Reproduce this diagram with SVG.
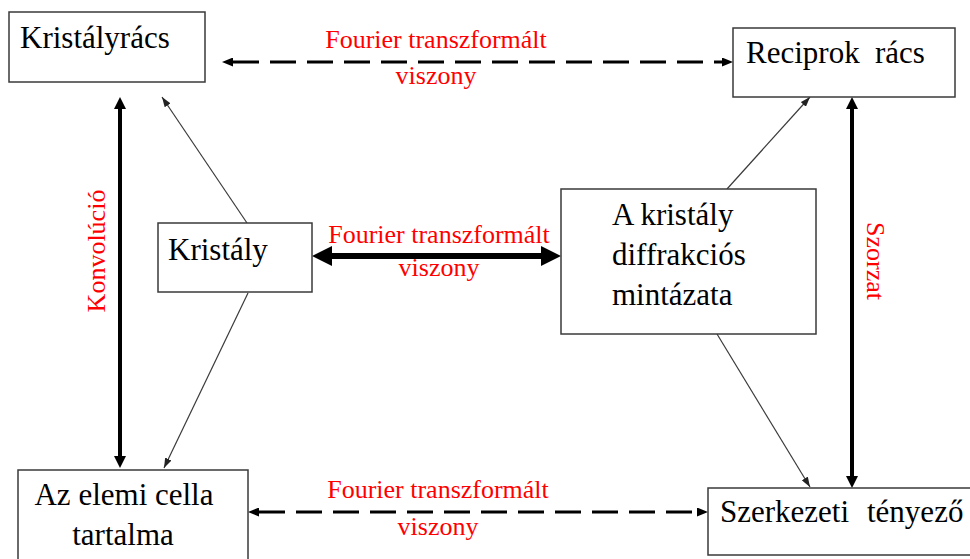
<svg xmlns="http://www.w3.org/2000/svg" width="970" height="559" viewBox="0 0 970 559">
  <style>
    .box { fill: #ffffff; stroke: #3a3a3a; stroke-width: 1.5; }
    .lbl { font-family: "Liberation Serif", "Times New Roman", serif; font-size: 31px; fill: #000000; }
    .red { font-family: "Liberation Serif", "Times New Roman", serif; font-size: 26px; fill: #ff0000; }
    .dash { stroke: #000000; stroke-width: 3.2; stroke-dasharray: 26 11; fill: none; }
    .thick { stroke: #000000; stroke-width: 6; fill: none; }
    .vert { stroke: #000000; stroke-width: 4; fill: none; }
    .thin { stroke: #3a3a3a; stroke-width: 1.2; fill: none; }
  </style>
  <defs>
    <marker id="head-lg" viewBox="0 -10 21 20" refX="0" refY="0" markerWidth="21" markerHeight="20" markerUnits="userSpaceOnUse" orient="auto-start-reverse">
      <path d="M0,-10 L20,0 L0,10 Z" fill="#000000"/>
    </marker>
    <marker id="head-md" viewBox="0 -6 13 12" refX="0" refY="0" markerWidth="13" markerHeight="12" markerUnits="userSpaceOnUse" orient="auto-start-reverse">
      <path d="M0,-6 L12,0 L0,6 Z" fill="#000000"/>
    </marker>
    <marker id="head-dash" viewBox="0 -4.5 12 9" refX="0" refY="0" markerWidth="12" markerHeight="9" markerUnits="userSpaceOnUse" orient="auto-start-reverse">
      <path d="M0,-4.5 L11,0 L0,4.5 Z" fill="#000000"/>
    </marker>
    <marker id="head-sm" viewBox="0 -3.5 10 7" refX="10" refY="0" markerWidth="10" markerHeight="7" markerUnits="userSpaceOnUse" orient="auto">
      <path d="M0,-3.5 L10,0 L0,3.5 Z" fill="#222222"/>
    </marker>
  </defs>

  <rect width="970" height="559" fill="#ffffff"/>

  <!-- connectors -->
  <g id="connectors">
    <!-- Fourier pair: lattice / reciprocal lattice -->
    <line class="dash" x1="233" y1="62" x2="722" y2="62" marker-start="url(#head-dash)" marker-end="url(#head-dash)"/>
    <!-- Fourier pair: crystal / diffraction pattern -->
    <line class="thick" x1="332" y1="256" x2="541" y2="256" marker-start="url(#head-lg)" marker-end="url(#head-lg)"/>
    <!-- Fourier pair: cell content / structure factor -->
    <line class="dash" x1="259" y1="512" x2="697" y2="512" marker-start="url(#head-dash)" marker-end="url(#head-dash)"/>
    <!-- convolution -->
    <line class="vert" x1="120" y1="109" x2="120" y2="456" marker-start="url(#head-md)" marker-end="url(#head-md)"/>
    <!-- product -->
    <line class="vert" x1="852" y1="109" x2="852" y2="476" marker-start="url(#head-md)" marker-end="url(#head-md)"/>
    <!-- decomposition arrows -->
    <line class="thin" x1="247" y1="223" x2="162" y2="97" marker-end="url(#head-sm)"/>
    <line class="thin" x1="248" y1="293" x2="164" y2="468" marker-end="url(#head-sm)"/>
    <line class="thin" x1="727" y1="189" x2="810" y2="97" marker-end="url(#head-sm)"/>
    <line class="thin" x1="717" y1="334" x2="810" y2="487" marker-end="url(#head-sm)"/>

    <!-- connector labels -->
    <text class="red" x="436" y="48" text-anchor="middle">Fourier transzformált</text>
    <text class="red" x="436" y="84" text-anchor="middle">viszony</text>
    <text class="red" x="439" y="243" text-anchor="middle">Fourier transzformált</text>
    <text class="red" x="439" y="276" text-anchor="middle">viszony</text>
    <text class="red" x="438" y="498" text-anchor="middle">Fourier transzformált</text>
    <text class="red" x="438" y="535" text-anchor="middle">viszony</text>
    <text class="red" text-anchor="middle" transform="translate(105,251) rotate(-90)">Konvolúció</text>
    <text class="red" text-anchor="middle" transform="translate(867,261) rotate(90)">Szorzat</text>
  </g>

  <!-- nodes -->
  <g id="kristalyracs">
    <rect class="box" x="9" y="12" width="196" height="70"/>
    <text class="lbl" x="20" y="48">Kristályrács</text>
  </g>
  <g id="reciprok-racs">
    <rect class="box" x="733" y="28" width="222" height="69"/>
    <text class="lbl" y="63"><tspan x="746">Reciprok</tspan><tspan x="875">rács</tspan></text>
  </g>
  <g id="kristaly">
    <rect class="box" x="158" y="223" width="154" height="69"/>
    <text class="lbl" x="168" y="260">Kristály</text>
  </g>
  <g id="diffrakcios-mintazat">
    <rect class="box" x="561" y="189" width="255" height="145"/>
    <text class="lbl" x="612" y="225">A kristály</text>
    <text class="lbl" x="612" y="265">diffrakciós</text>
    <text class="lbl" x="612" y="305">mintázata</text>
  </g>
  <g id="elemi-cella">
    <rect class="box" x="18" y="470" width="230" height="95"/>
    <text class="lbl" x="124" y="505" text-anchor="middle">Az elemi cella</text>
    <text class="lbl" x="123" y="545" text-anchor="middle">tartalma</text>
  </g>
  <g id="szerkezeti-tenyezo">
    <rect class="box" x="708" y="488" width="266" height="67"/>
    <text class="lbl" y="522"><tspan x="720">Szerkezeti</tspan><tspan x="867">tényező</tspan></text>
  </g>
</svg>
